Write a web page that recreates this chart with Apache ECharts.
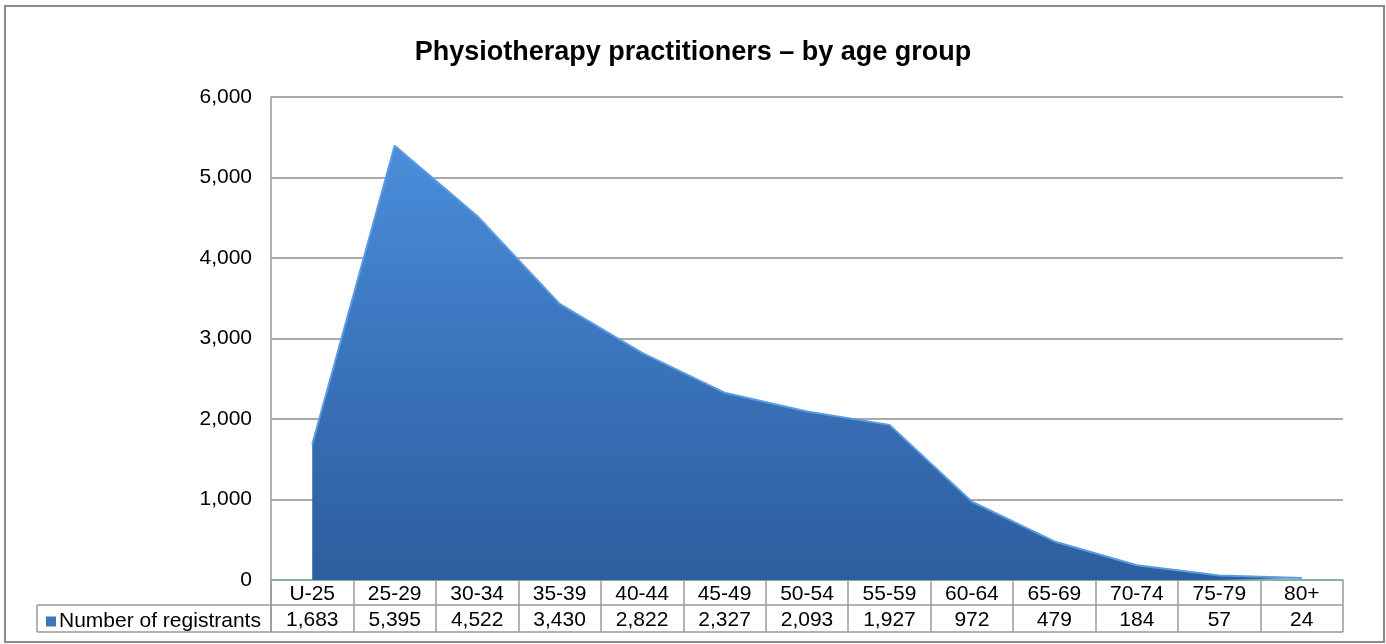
<!DOCTYPE html>
<html>
<head>
<meta charset="utf-8">
<script src="https://cdn.jsdelivr.net/npm/echarts@6/dist/echarts.min.js"></script>
<style>
	html,body{margin:0;padding:0;background:#fff;}
	#chart{width:1386px;height:644px;}
</style>
</head>
<body>
<div id="chart"></div>
<script>
	// 年龄组
	var ageGroups = ['U-25','25-29','30-34','35-39','40-44','45-49','50-54','55-59','60-64','65-69','70-74','75-79','80+'];
	// 注册人数
	var registrants = [1683,5395,4522,3430,2822,2327,2093,1927,972,479,184,57,24];
	var yTicks = [0,1000,2000,3000,4000,5000,6000];
	var seriesName = 'Number of registrants';

	function fmt(v){
		return String(v).replace(/\B(?=(\d{3})+(?!\d))/g, ',');
	}

	var gridLeft = 271, gridRight = 1343, gridTop = 97, gridBottom = 580;
	var rowH = 26;
	var lineCol = '#9a9a9a';
	var fs = 21;

	var option = {
		backgroundColor: '#fff',
		animation: false,
		textStyle: { fontFamily: 'Liberation Sans, Arial, sans-serif' },
		title: {
			text: 'Physiotherapy practitioners \u2013 by age group',
			left: 'center',
			top: 34,
			textStyle: { fontSize: 27, fontWeight: 'bold', color: '#000', fontFamily: 'Liberation Sans, Arial, sans-serif' }
		},
		legend: {
			left: 41,
			top: 606,
			icon: 'rect',
			itemWidth: 10,
			itemHeight: 10,
			itemGap: 4,
			textStyle: { fontSize: fs, color: '#000', padding: [0,0,0,-2] },
			data: [seriesName]
		},
		grid: {
			left: gridLeft,
			right: 1386 - gridRight,
			top: gridTop,
			bottom: 644 - gridBottom
		},
		xAxis: {
			type: 'category',
			data: ageGroups,
			boundaryGap: true,
			axisLine: { show: true, lineStyle: { color: '#79b59a', width: 1.5 } },
			axisTick: { show: true, interval: 0, length: rowH * 2, lineStyle: { color: lineCol, width: 1.5 } },
			axisLabel: {
				interval: 0,
				margin: 1,
				formatter: function(val, idx){
					return '{a|' + val + '}\n{b|' + fmt(registrants[idx]) + '}';
				},
				rich: {
					a: { fontSize: fs, color: '#000', lineHeight: rowH, height: rowH },
					b: { fontSize: fs, color: '#000', lineHeight: rowH, height: rowH }
				}
			},
			splitLine: { show: false }
		},
		yAxis: {
			type: 'value',
			min: 0,
			max: 6000,
			interval: 1000,
			axisLine: { show: true, lineStyle: { color: lineCol, width: 1.5 } },
			axisTick: { show: false },
			axisLabel: { fontSize: fs, color: '#000', margin: 19, formatter: function(v){ return fmt(v); } },
			splitLine: { show: true, lineStyle: { color: '#8c8c8c', width: 1.5 } }
		},
		series: [{
			name: seriesName,
			type: 'line',
			data: registrants,
			symbol: 'none',
			smooth: false,
			lineStyle: { color: '#5b9be0', width: 2 },
			itemStyle: { color: '#3c76c0' },
			areaStyle: {
				opacity: 1,
				color: new echarts.graphic.LinearGradient(0, 0, 0, 1, [
					{ offset: 0, color: '#4a8edb' },
					{ offset: 0.5, color: '#3a73bb' },
					{ offset: 1, color: '#2d5e9f' }
				])
			}
		}],
		graphic: [
			// 外框
			{ type: 'rect', shape: { x: 5, y: 6, width: 1379, height: 636 }, style: { fill: null, stroke: '#8a8a8a', lineWidth: 2 }, silent: true },
			// 数据表横线
			{ type: 'line', shape: { x1: 37, y1: gridBottom + rowH - 1, x2: gridRight, y2: gridBottom + rowH - 1 }, style: { stroke: lineCol, lineWidth: 1.5 }, silent: true },
			{ type: 'line', shape: { x1: 37, y1: gridBottom + rowH * 2, x2: gridRight, y2: gridBottom + rowH * 2 }, style: { stroke: lineCol, lineWidth: 1.5 }, silent: true },
			{ type: 'line', shape: { x1: 37, y1: gridBottom + rowH - 1, x2: 37, y2: gridBottom + rowH * 2 }, style: { stroke: lineCol, lineWidth: 1.5 }, silent: true },
			{ type: 'line', shape: { x1: gridLeft, y1: gridBottom, x2: gridLeft, y2: gridBottom + rowH * 2 }, style: { stroke: lineCol, lineWidth: 1.5 }, silent: true }
		]
	};

	var myChart = echarts.init(document.getElementById('chart'));
	myChart.setOption(option);
	//窗口变动，表格刷新
	window.addEventListener('resize', function(){ myChart.resize(); });
</script>
</body>
</html>
